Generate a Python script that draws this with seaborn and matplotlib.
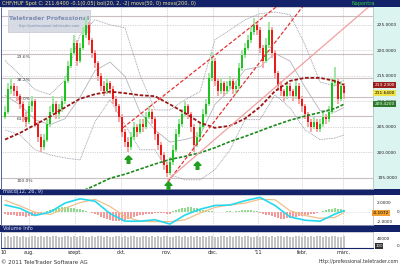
import numpy as np
import matplotlib
matplotlib.use("Agg")
import matplotlib.pyplot as plt
from matplotlib.patches import Rectangle
from matplotlib.path import Path
import matplotlib.transforms as mtransforms
import seaborn as sns

sns.set_style("white")
plt.rcParams["font.family"] = ["DejaVu Sans"]

# ------------------------------------------------------------------ data
title_text = "CHF/HUF Spot C: 211.6400 -0.1(0.05) bol(20, 2, -2) movs(50, 0) movs(200, 0)"
period_text = "Napontra"

opens = [207.0, 208.0, 212.5, 213.0, 212.0, 211.0, 209.5, 207.0, 206.0, 209.0,
         210.0, 205.5, 203.0, 201.0, 202.5, 205.5, 208.0, 209.5, 207.5, 208.5,
         210.0, 214.0, 217.0, 219.5, 221.5, 218.0, 220.5, 223.0, 225.0, 222.0,
         219.5, 217.5, 215.0, 213.0, 212.0, 213.5, 212.5, 210.5, 209.0, 207.0,
         204.0, 202.0, 201.0, 203.0, 205.0, 204.0, 205.5, 205.0, 207.0, 208.0,
         206.5, 203.5, 201.5, 199.5, 197.5, 196.0, 198.0, 200.5, 203.5, 205.5,
         207.5, 209.0, 207.5, 205.0, 201.5, 203.0, 205.0, 207.5, 209.5, 214.5,
         218.0, 214.0, 212.0, 213.5, 212.0, 213.0, 214.0, 212.5, 213.0, 216.5,
         219.0, 220.5, 222.0, 223.5, 225.0, 224.0, 220.5, 218.0, 221.0, 224.0,
         219.5, 215.5, 213.0, 212.0, 211.0, 213.0, 212.0, 211.0, 213.0, 210.5,
         209.0, 207.5, 206.0, 205.0, 206.0, 204.5, 205.5, 207.0, 206.5, 208.0,
         213.5, 214.0, 210.5, 213.0]
closes = [208.0, 212.5, 213.0, 212.0, 211.0, 209.5, 207.0, 206.0, 209.0, 210.0,
          205.5, 203.0, 201.0, 202.5, 205.5, 208.0, 209.5, 207.5, 208.5, 210.0,
          214.0, 217.0, 219.5, 221.5, 218.0, 220.5, 223.0, 225.0, 222.0, 219.5,
          217.5, 215.0, 213.0, 212.0, 213.5, 212.5, 210.5, 209.0, 207.0, 204.0,
          202.0, 201.0, 203.0, 205.0, 204.0, 205.5, 205.0, 207.0, 208.0, 206.5,
          203.5, 201.5, 199.5, 197.5, 196.0, 198.0, 200.5, 203.5, 205.5, 207.5,
          209.0, 207.5, 205.0, 201.5, 203.0, 205.0, 207.5, 209.5, 214.5, 218.0,
          214.0, 212.0, 213.5, 212.0, 213.0, 214.0, 212.5, 213.0, 216.5, 219.0,
          220.5, 222.0, 223.5, 225.0, 224.0, 220.5, 218.0, 221.0, 224.0, 219.5,
          215.5, 213.0, 212.0, 211.0, 213.0, 212.0, 211.0, 213.0, 210.5, 209.0,
          207.5, 206.0, 205.0, 206.0, 204.5, 205.5, 207.0, 206.5, 208.0, 213.5,
          214.0, 210.5, 213.0, 211.64]
highs = [209.0, 213.5, 214.5, 213.5, 213.0, 211.5, 210.0, 208.0, 210.0, 211.0,
         210.5, 206.0, 203.5, 203.5, 206.5, 209.0, 211.0, 210.0, 209.5, 211.0,
         215.0, 218.0, 220.5, 223.0, 222.0, 221.5, 224.5, 226.6, 225.5, 222.5,
         220.0, 218.0, 215.5, 214.0, 214.5, 214.0, 213.0, 211.0, 209.5, 207.5,
         204.5, 203.0, 204.0, 206.0, 205.5, 206.5, 206.5, 208.0, 209.0, 208.5,
         207.0, 204.0, 202.0, 200.0, 198.0, 199.0, 201.5, 204.5, 206.5, 208.5,
         210.0, 209.5, 208.0, 205.5, 204.0, 206.0, 208.5, 210.5, 215.5, 219.7,
         218.5, 214.5, 214.5, 214.0, 214.0, 215.0, 214.5, 214.0, 217.5, 220.0,
         221.5, 223.0, 224.5, 226.3, 225.5, 224.5, 221.0, 222.5, 225.5, 224.5,
         220.0, 216.0, 214.0, 212.5, 214.0, 213.5, 212.5, 214.0, 213.5, 211.0,
         209.5, 208.0, 206.5, 207.0, 206.5, 206.5, 208.0, 207.5, 209.0, 214.5,
         216.8, 214.5, 214.0, 213.5]
lows = [206.5, 207.5, 211.5, 211.0, 210.0, 208.5, 206.0, 205.0, 205.5, 208.0,
        205.0, 202.0, 200.0, 200.5, 202.0, 205.0, 207.5, 206.5, 206.5, 208.0,
        209.5, 213.5, 216.5, 219.0, 217.0, 217.5, 220.0, 222.5, 221.0, 218.5,
        216.5, 214.0, 212.0, 211.0, 211.5, 211.5, 209.5, 208.0, 206.0, 203.0,
        201.0, 200.0, 200.5, 202.5, 203.0, 203.5, 204.0, 204.5, 206.5, 205.5,
        202.5, 200.5, 198.5, 196.5, 195.2, 195.5, 197.5, 200.0, 203.0, 205.0,
        207.0, 206.5, 204.0, 200.0, 201.0, 202.5, 204.5, 207.0, 209.0, 214.0,
        213.0, 211.0, 211.5, 211.0, 211.5, 212.5, 211.5, 211.5, 212.5, 216.0,
        218.5, 220.0, 221.5, 223.0, 223.0, 219.5, 216.5, 217.5, 220.5, 218.5,
        214.5, 212.0, 211.0, 210.0, 210.5, 211.0, 210.0, 210.5, 209.5, 208.0,
        206.5, 205.0, 204.0, 204.5, 204.0, 204.0, 205.0, 205.5, 206.0, 207.5,
        213.0, 209.5, 210.0, 210.5]
volumes = [50, 52, 49, 53, 51, 48, 52, 50, 47, 53,
           51, 49, 52, 50, 53, 48, 51, 52, 49, 50,
           53, 51, 50, 52, 48, 51, 53, 50, 49, 52,
           50, 52, 51, 47, 53, 50, 49, 52, 51, 50,
           52, 48, 51, 53, 50, 49, 52, 51, 50, 53,
           49, 52, 50, 51, 53, 48, 50, 52, 51, 49,
           52, 50, 53, 49, 51, 50, 52, 48, 53, 51,
           50, 49, 52, 51, 50, 53, 48, 51, 52, 50,
           51, 53, 50, 49, 52, 50, 51, 53, 49, 52,
           50, 51, 52, 48, 53, 50, 49, 51, 52, 50,
           53, 49, 51, 50, 52, 51, 48, 52, 50, 51,
           52, 50, 49, 51]  # thousands

ind_idx = [0, 5, 10, 15, 20, 25, 30, 35, 40, 45, 50, 55, 60, 65, 70, 75,
           80, 85, 90, 95, 100, 105, 110, 113]
ma50 = [202.5, 203.8, 205.4, 207.0, 208.8, 210.5, 211.4, 211.9, 211.6, 211.2,
        211.0, 209.4, 207.7, 205.8, 204.8, 205.2, 206.6, 208.9, 212.0, 214.0,
        214.6, 214.6, 214.0, 213.23]
ma200_idx = [25, 30, 35, 40, 45, 50, 55, 60, 65, 70, 75, 80, 85, 90, 95, 100,
             105, 110, 113]
ma200 = [192.2, 193.5, 194.9, 195.7, 196.7, 197.7, 198.6, 199.2, 199.9, 200.9,
         202.1, 203.1, 204.2, 205.3, 206.3, 207.1, 207.8, 208.6, 209.42]
boll_upper = [218.0, 215.2, 212.3, 211.3, 214.2, 223.0, 226.0, 225.0, 224.4, 215.2,
              208.3, 208.3, 210.3, 211.9, 222.1, 224.0, 226.0, 227.2, 227.5, 227.0,
              221.1, 213.8, 213.0, 214.2]
boll_mid = [211.2, 209.3, 206.4, 205.4, 206.6, 210.8, 216.0, 217.7, 214.9, 207.9,
            204.4, 202.0, 202.5, 203.3, 209.4, 212.3, 216.2, 216.8, 219.4, 217.9,
            212.8, 208.2, 207.9, 208.8]
boll_lower = [204.4, 203.4, 200.5, 199.5, 198.9, 198.5, 206.0, 210.3, 205.4, 200.5,
              200.5, 195.6, 194.6, 194.6, 196.6, 200.5, 206.4, 206.4, 211.3, 208.7,
              204.4, 202.5, 202.8, 203.4]

macd_line = [1.5, 0.8, -0.7, 0.0, 1.9, 2.8, 2.3, -0.3, -1.9, -1.9, -1.6, -2.5,
             -0.6, 0.6, 1.4, 1.5, 2.4, 3.1, 1.4, -1.0, -1.7, -1.9, -0.4, 0.3]
macd_signal = [2.5, 1.3, 0.0, -0.5, 0.8, 2.0, 2.7, 1.2, -0.9, -1.9, -2.0, -2.0,
               -1.6, -0.2, 1.0, 1.5, 1.9, 2.7, 2.6, 0.3, -0.7, -1.3, -1.1, -0.1]
macd_hist = [-0.3, -0.5, -0.6, -0.7, -0.8, -0.9, -0.9, -1.0, -0.9, -0.8, -0.6, -0.4, -0.2,
             0.1, 0.3, 0.5, 0.7, 0.8, 0.9, 1.0, 1.0, 1.0, 0.9, 0.8, 0.7, 0.6, 0.5, 0.3, 0.1,
             -0.2, -0.4, -0.7, -1.0, -1.3, -1.5, -1.7, -1.8, -1.9, -1.9, -1.8, -1.6, -1.4,
             -1.2, -1.0, -0.8, -0.6, -0.5, -0.4, -0.3, -0.3, -0.2, -0.2, -0.1,
             -0.2, -0.3, -0.3,
             0.2, 0.4, 0.6, 0.8, 0.9, 1.0, 1.0, 0.9, 0.8, 0.6, 0.5, 0.4, 0.3,
             0.2, 0.1, 0.1, 0.0, 0.1, 0.2, 0.2, 0.1,
             0.2, 0.3, 0.4, 0.5, 0.5, 0.4, 0.3, 0.2,
             -0.1, -0.3, -0.5, -0.7, -0.9, -1.1, -1.3, -1.4, -1.4, -1.3, -1.2, -1.1,
             -1.0, -0.9, -0.8, -0.7, -0.5, -0.4, -0.3, -0.2,
             0.1, 0.2, 0.4, 0.6, 0.7, 0.8, 0.7, 0.6, 0.4]
macd_box_value = -0.1072

month_pos = [-0.3, 8.0, 23.3, 38.7, 54.0, 69.3, 84.3, 99.0, 112.7]
month_labels = ["10", "aug.", "szept.", "okt.", "nov.", "dec.", "'11", "febr.", "márc."]

price_ticks = [195, 200, 205, 210, 215, 220, 225]
macd_ticks = [2, -2]
volume_ticks = [40]

fib_high, fib_low = 226.8, 195.0
fib_ratios = [0.0, 0.236, 0.382, 0.5, 0.618, 1.0]
fib_labels = ["", "23.6%", "38.2%", "50.0%", "61.8%", "100.0%"]

trend_from = [(39.3, 204.8), (54.3, 194.2), (54.3, 194.6)]
trend_through = [(85.0, 226.0), (85.0, 217.7), (83.3, 209.3)]

signal_idx = [41.0, 54.3, 64.0]
signal_price = [198.6, 193.5, 197.6]

# ------------------------------------------------------------------ layout
W, H = 400, 266
fig = plt.figure(figsize=(W / 100, H / 100), dpi=100)
fig.patch.set_facecolor("white")


def fx(px):
    return px / W


def fy(py):
    return 1 - py / H


PL, PR = 1, 373


def add_ax(top, bottom):
    return fig.add_axes([fx(PL), fy(bottom), fx(PR) - fx(PL), fy(top) - fy(bottom)])


NAVY = "#14226a"
FS = 3.1

def band(top, bottom, color, x0=0, x1=W):
    fig.patches.append(Rectangle((fx(x0), fy(bottom)), fx(x1) - fx(x0), fy(top) - fy(bottom),
                                 transform=fig.transFigure, facecolor=color,
                                 edgecolor="none", zorder=-1))

band(0, 7, NAVY)
band(189, 195, NAVY)
band(225, 232, NAVY)
band(7, 189, "#dcf4f0", x0=PR, x1=W)

fig.text(fx(2), fy(3.6), title_text, fontsize=3.6, color="#f2e68a", va="center", ha="left")
fig.text(fx(363), fy(3.6), period_text, fontsize=3.6, color="#33d433", va="center", ha="center")
fig.text(fx(3), fy(192), "macd(12, 26, 9)", fontsize=3.6, color="#d6def5", va="center")
fig.text(fx(3), fy(228.5), "Volume Info", fontsize=3.6, color="#d6def5", va="center")
fig.text(fx(1), fy(262), "© 2011 TeleTrader Software AG", fontsize=4, color="#333333", va="center")
fig.text(fx(399), fy(262), "http://professional.teletrader.com", fontsize=3.4,
         color="#333333", va="center", ha="right")

ax = add_ax(7, 189)
axm = add_ax(195, 225)
axv = add_ax(232, 248)

xlim = (-1.33, 122.67)
idx = np.arange(len(closes))
for a in (ax, axm, axv):
    a.set_xlim(*xlim)
    a.set_facecolor("white")
    for s in a.spines.values():
        s.set_color("#b8b8c4")
        s.set_linewidth(0.5)
    a.spines["left"].set_color(NAVY)
    a.tick_params(axis="both", length=0, labelsize=FS, colors="#202020", pad=3)
    a.yaxis.tick_right()
    a.set_xticks(month_pos[1:])
    a.grid(axis="x", color="#b4b4b4", linestyle=(0, (1, 1.5)), linewidth=0.5)
    a.set_axisbelow(True)

# ------------------------------------------------------------------ main panel
ax.set_ylim(192.8, 228.5)
ax.set_yticks(price_ticks, [f"{v:.4f}" for v in price_ticks])
ax.tick_params(axis="x", labelbottom=False)
ax.grid(axis="y", color="#b4b4b4", linestyle=(0, (1, 1.5)), linewidth=0.5)

for r, lab in zip(fib_ratios, fib_labels):
    lvl = fib_high - r * (fib_high - fib_low)
    ax.axhline(lvl, color="#c9bfbf", lw=0.8, zorder=1)
    if lab:
        ax.text(4, lvl - 0.15, lab, fontsize=3.2, color="#404040", va="top", ha="left", zorder=2)

# watermark
ax.add_patch(Rectangle((fx(8), fy(32)), fx(90) - fx(8), fy(10) - fy(32), transform=fig.transFigure,
                       facecolor="#d3d7e0", edgecolor="#c0c4cc", lw=0.5, alpha=0.9, zorder=2))
ax.text(fx(49), fy(18.5), "Teletrader Professional", transform=fig.transFigure, fontsize=4.4,
        fontweight="bold", color="#7c8cb4", ha="center", va="center", zorder=2.5)
ax.text(fx(49), fy(26.5), "http://professional.teletrader.com", transform=fig.transFigure,
        fontsize=2.6, color="#7c8cb4", ha="center", va="center", zorder=2.5)

# bollinger bands
sns.lineplot(x=ind_idx, y=boll_upper, ax=ax, color="#8e8ea0", lw=0.6, linestyle=(0, (1, 1)), zorder=2)
sns.lineplot(x=ind_idx, y=boll_lower, ax=ax, color="#8e8ea0", lw=0.6, linestyle=(0, (1, 1)), zorder=2)
sns.lineplot(x=ind_idx, y=boll_mid, ax=ax, color="#b4b4bc", lw=0.6, zorder=2)

# candles
o = np.array(opens); c = np.array(closes); h = np.array(highs); l = np.array(lows)
up = c >= o
ax.bar(idx[up], (h - l)[up], bottom=l[up], width=0.75, color="#a4e6a4", zorder=3, lw=0)
ax.bar(idx[~up], (h - l)[~up], bottom=l[~up], width=0.75, color="#f6a8a8", zorder=3, lw=0)
ax.bar(idx[up], (c - o)[up], bottom=o[up], width=0.75, color="#1ec41e", zorder=4, lw=0)
ax.bar(idx[~up], (o - c)[~up], bottom=c[~up], width=0.75, color="#ec1a1a", zorder=4, lw=0)

# moving averages
sns.lineplot(x=ind_idx, y=ma50, ax=ax, color="#9a1616", lw=1.3, linestyle=(0, (2, 1)), zorder=5)
sns.lineplot(x=ma200_idx, y=ma200, ax=ax, color="#1c8a1c", lw=1.2, linestyle=(0, (2, 1)), zorder=5)

# trend lines
styles = [dict(color="#e43434", lw=0.9, linestyle=(0, (3, 1.5))),
          dict(color="#e43434", lw=0.9, linestyle=(0, (3, 1.5))),
          dict(color="#f2a0a0", lw=0.9, linestyle="-")]
for (x0, y0), (x1, y1), st in zip(trend_from, trend_through, styles):
    slope = (y1 - y0) / (x1 - x0)
    xe = xlim[1]
    ax.plot([x0, xe], [y0, y0 + slope * (xe - x0)], zorder=5, **st)

# signal arrows
arrow = Path([(0, 1), (0.9, 0.05), (0.35, 0.05), (0.35, -1), (-0.35, -1), (-0.35, 0.05),
              (-0.9, 0.05), (0, 1)])
ax.plot(signal_idx, signal_price, ls="none", marker=arrow, ms=5.5, color="#1ea01e",
        mec="#1ea01e", zorder=6, clip_on=False)

# right-side value boxes
tr = mtransforms.blended_transform_factory(ax.transAxes, ax.transData)
for val, fc, tc in [(ma50[-1], "#9b1c1c", "white"), (closes[-1], "#f2e24a", "black"),
                    (ma200[-1], "#2a7a2a", "white")]:
    ax.text(1.004, val, f"{val:.4f}", transform=tr, ha="left", va="center", fontsize=FS,
            color=tc, bbox=dict(boxstyle="square,pad=0.25", fc=fc, ec="none"),
            clip_on=False, zorder=10)

# ------------------------------------------------------------------ MACD panel
axm.set_ylim(-2.7, 3.6)
axm.set_yticks(macd_ticks, [f"{v:.4f}" for v in macd_ticks])
axm.tick_params(axis="x", labelbottom=False)
axm.axhline(0, color="#c8c8c8", lw=0.4, linestyle=(0, (1, 1.5)))
hist = np.array(macd_hist)
axm.bar(idx, hist, width=0.55, color=np.where(hist >= 0, "#8fdc8f", "#f49a9a"), lw=0, zorder=2)
sns.lineplot(x=ind_idx, y=macd_signal, ax=axm, color="#f0c08a", lw=0.9, zorder=3)
sns.lineplot(x=ind_idx, y=macd_line, ax=axm, color="#26d8ee", lw=1.2, zorder=4)
trm = mtransforms.blended_transform_factory(axm.transAxes, axm.transData)
axm.text(1.07, 0, "0", transform=trm, fontsize=FS, ha="right", va="center", clip_on=False)
axm.text(1.0, macd_box_value, f"{macd_box_value:.4f}", transform=trm, fontsize=FS, ha="left",
         va="center", color="black", bbox=dict(boxstyle="square,pad=0.2", fc="#f0a030", ec="none"),
         clip_on=False, zorder=10)

# ------------------------------------------------------------------ volume panel
axv.set_ylim(0, 70)
axv.set_yticks(volume_ticks, [f"{v * 1000}" for v in volume_ticks])
axv.bar(idx, volumes, width=0.45, color="#c4c4c4", lw=0, zorder=2)
axv.set_xticks(month_pos, month_labels)
axv.tick_params(axis="x", labelbottom=True, pad=1.5, labelsize=3.5)
axv.grid(axis="x", color="#b4b4b4", linestyle=(0, (1, 1.5)), linewidth=0.5)
axv.spines["bottom"].set_color(NAVY)
axv.spines["bottom"].set_linewidth(0.8)
trv = mtransforms.blended_transform_factory(axv.transAxes, axv.transData)
axv.text(1.07, 0, "0", transform=trv, fontsize=FS, ha="right", va="bottom", clip_on=False)
axv.text(1.006, 0, "100", transform=trv, fontsize=2.8, ha="left", va="bottom", color="white",
         bbox=dict(boxstyle="square,pad=0.15", fc="#303030", ec="none"), clip_on=False)

for a in (ax, axm, axv):
    a.set_xlabel("")
    a.set_ylabel("")

fig.savefig("out.png", dpi=100, facecolor="white")
